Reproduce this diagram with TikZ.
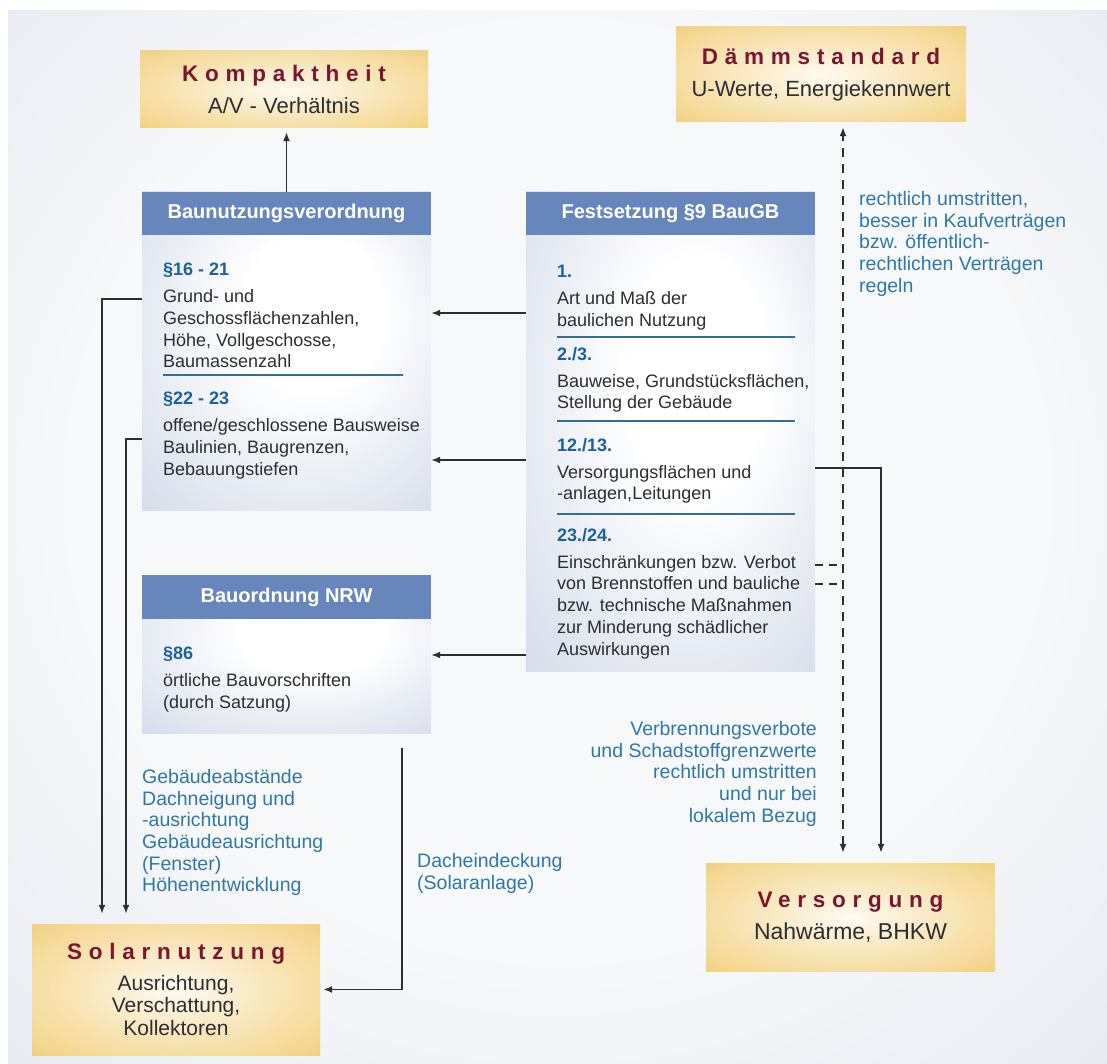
\documentclass[tikz,border=0pt]{standalone}
\usepackage{fontspec}
\setmainfont{Liberation Sans}
\newfontfamily\titelfont{Liberation Sans}[LetterSpace=30]
\usetikzlibrary{arrows.meta}

\definecolor{kopfblau}{RGB}{103,135,188}
\definecolor{feldblau}{RGB}{194,205,225}
\definecolor{gold}{RGB}{241,206,122}
\definecolor{creme}{RGB}{254,250,238}
\definecolor{weinrot}{RGB}{122,22,48}
\definecolor{nrblau}{RGB}{28,98,152}
\definecolor{notizblau}{RGB}{48,120,165}
\definecolor{linienblau}{RGB}{52,112,142}
\definecolor{textgrau}{RGB}{45,45,50}
\definecolor{grundhell}{RGB}{247,248,250}
\definecolor{grunddunkel}{RGB}{216,222,233}

\pgfdeclareradialshading{goldverlauf}{\pgfpoint{0bp}{0bp}}{color(0bp)=(creme); color(38bp)=(gold); color(50bp)=(gold)}
\pgfdeclareradialshading{blauverlauf}{\pgfpoint{6bp}{8bp}}{color(0bp)=(white); color(12bp)=(white); color(50bp)=(feldblau)}
\pgfdeclareradialshading{grundverlauf}{\pgfpoint{0bp}{4bp}}{color(0bp)=(grundhell); color(22bp)=(grundhell); color(50bp)=(grunddunkel)}

\newcommand\paranr[1]{{\bfseries\color{nrblau}#1}}
\newcommand\zieltitel[1]{{\titelfont\bfseries\color{weinrot}\fontsize{22.5}{28}\selectfont #1}}

\begin{document}
\begin{tikzpicture}[x=1pt,y=-1pt,
    ziel/.style={shade, shading=goldverlauf, align=center, inner sep=0pt, text=textgrau, font=\fontsize{22}{26}\selectfont},
    kasten/.style={shade, shading=blauverlauf, minimum width=289pt, inner sep=0pt},
    kopf/.style={fill=kopfblau, text=white, font=\fontsize{20}{24}\selectfont\bfseries, minimum width=289pt, minimum height=43pt, inner sep=0pt, anchor=north},
    abschnitt/.style={anchor=north west, align=left, inner sep=0pt, text=textgrau, font=\fontsize{18}{21.7}\selectfont},
    notiz/.style={inner sep=0pt, text=notizblau, font=\fontsize{19.5}{21.7}\selectfont},
    trenner/.style={linienblau, line width=1.2pt},
    pfeil/.style={-{Latex[length=9pt,width=7pt]}, line width=1.7pt, textgrau},
    strich/.style={{Latex[length=9pt,width=7pt]}-{Latex[length=9pt,width=7pt]}, line width=1.7pt, textgrau, dash pattern=on 9pt off 7pt},
    stummel/.style={line width=1.7pt, textgrau, dash pattern=on 8pt off 6pt}]
\useasboundingbox (0,0) rectangle (1107,1064);
\fill[white] (0,0) rectangle (1107,1064);
\shade[shading=grundverlauf] (8,11) rectangle (1107,1064);

\node[ziel, minimum width=288pt, minimum height=77pt] (K) at (284,89.5) {\zieltitel{Kompaktheit}\\[6pt] A/V - Verhältnis};
\node[ziel, minimum width=290pt, minimum height=95pt] (D) at (821,74.5) {\zieltitel{Dämmstandard}\\[6pt] U-Werte, Energiekennwert};
\node[ziel, minimum width=288pt, minimum height=131pt, font=\fontsize{21}{22.5}\selectfont] (S) at (176,989.5) {\zieltitel{Solarnutzung}\\[8pt] Ausrichtung,\\ Verschattung,\\ Kollektoren};
\node[ziel, minimum width=289pt, minimum height=108pt, font=\fontsize{23}{26}\selectfont] (V) at (850.5,917) {\zieltitel{Versorgung}\\[6pt] Nahwärme, BHKW};

\node[kasten, minimum height=318pt] (B) at (286.5,351) {};
\node[kopf] (BK) at (B.north) {Baunutzungsverordnung};
\node[abschnitt] (B1) at (163,263) {\paranr{§16 - 21}\\[5.3pt] Grund- und\\ Geschossflächenzahlen,\\ Höhe, Vollgeschosse,\\ Baumassenzahl};
\node[abschnitt] (B2) at (163,392) {\paranr{§22 - 23}\\[5.3pt] offene/geschlossene Bausweise\\ Baulinien, Baugrenzen,\\ Bebauungstiefen};
\draw[trenner] (163,375) to (403,375);

\node[kasten, minimum height=479pt] (F) at (670.5,431.5) {};
\node[kopf] (FK) at (F.north) {Festsetzung §9 BauGB};
\node[abschnitt] (F1) at (557,265) {\paranr{1.}\\[5.3pt] Art und Maß der\\ baulichen Nutzung};
\node[abschnitt] (F2) at (557,347) {\paranr{2./3.}\\[5.3pt] Bauweise, Grundstücksflächen,\\ Stellung der Gebäude};
\node[abschnitt] (F3) at (557,438) {\paranr{12./13.}\\[5.3pt] Versorgungsflächen und\\ -anlagen,Leitungen};
\node[abschnitt] (F4) at (557,528) {\paranr{23./24.}\\[5.3pt] Einschränkungen bzw. Verbot\\ von Brennstoffen und bauliche\\ bzw. technische Maßnahmen\\ zur Minderung schädlicher\\ Auswirkungen};
\draw[trenner] (557,337) to (795,337);
\draw[trenner] (557,421) to (795,421);
\draw[trenner] (557,514) to (795,514);

\node[kasten, minimum height=158pt] (N) at (286.5,654) {};
\node[kopf, minimum height=44pt] (NK) at (N.north) {Bauordnung NRW};
\node[abschnitt] (N1) at (163,647) {\paranr{§86}\\[5.3pt] örtliche Bauvorschriften\\ (durch Satzung)};

\node[notiz, anchor=north west, align=left] (R1) at (859,191) {rechtlich umstritten,\\ besser in Kaufverträgen\\ bzw. öffentlich-\\ rechtlichen Verträgen\\ regeln};
\node[notiz, anchor=north east, align=right] (R2) at (817,721) {Verbrennungsverbote\\ und Schadstoffgrenzwerte\\ rechtlich umstritten\\ und nur bei\\ lokalem Bezug};
\node[notiz, anchor=north west, align=left] (R3) at (142,769) {Gebäudeabstände\\ Dachneigung und\\ -ausrichtung\\ Gebäudeausrichtung\\ (Fenster)\\ Höhenentwicklung};
\node[notiz, anchor=north west, align=left] (R4) at (417,853) {Dacheindeckung\\ (Solaranlage)};

\coordinate (H1) at (0,313);
\coordinate (H2) at (0,460);
\coordinate (H3) at (0,655);
\coordinate (L1) at (102,299);
\coordinate (L2) at (126,439);
\coordinate (P1) at (402,748);
\coordinate (P2) at (881,468);
\coordinate (G1) at (843,0);
\coordinate (G2) at (843,565);
\coordinate (G3) at (843,584);

\draw[pfeil, shorten >=4pt] (B.north) to (B.north |- K.south);
\draw[pfeil] (F.west |- H1) to (B.east |- H1);
\draw[pfeil] (F.west |- H2) to (B.east |- H2);
\draw[pfeil] (F.west |- H3) to (N.east |- H3);
\draw[pfeil, shorten >=10pt] (B.west |- L1) -- (L1) -- (L1 |- S.north);
\draw[pfeil, shorten >=10pt] (B.west |- L2) -- (L2) -- (L2 |- S.north);
\draw[pfeil, shorten >=3pt] (P1) |- (S.east);
\draw[pfeil, shorten >=10pt] (F.east |- P2) -| (V.north -| P2);
\draw[strich, shorten <=10pt, shorten >=5pt] (V.north -| G1) to (D.south -| G1);
\draw[stummel] (F.east |- G2) to (G2);
\draw[stummel] (F.east |- G3) to (G3);
\end{tikzpicture}
\end{document}
